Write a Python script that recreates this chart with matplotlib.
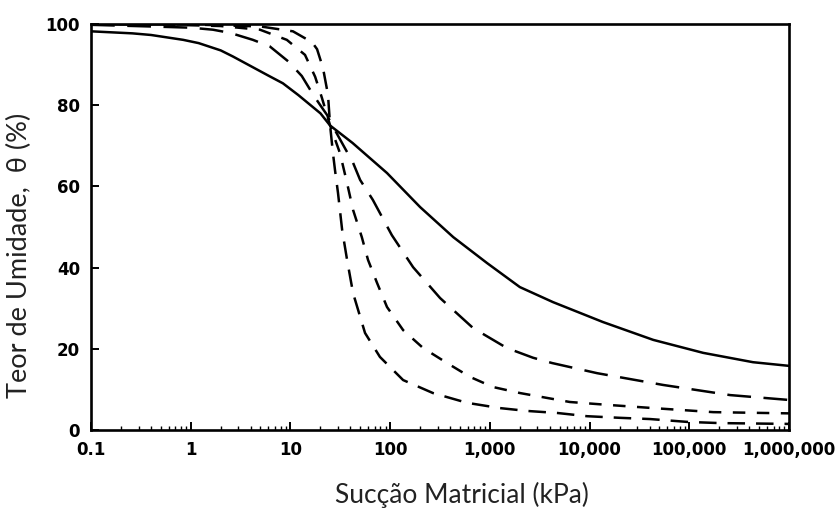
import matplotlib
matplotlib.use("Agg")
import matplotlib.pyplot as plt
from matplotlib.ticker import LogLocator, NullFormatter

# ---- data ----
solid_x = [0.1, 0.26, 0.4, 0.84, 1.2, 2, 2.65, 6, 8.4, 12, 20, 25, 42, 93, 200,
           430, 940, 2000, 4300, 13600, 43500, 138000, 436000, 1e6]
solid_y = [98.2, 97.7, 97.3, 96.1, 95.3, 93.5, 92.0, 87.3, 85.4, 82.5, 78, 75,
           70.7, 63.3, 54.9, 47.5, 41.1, 35.2, 31.5, 26.6, 22.2, 19.0, 16.7, 15.8]

c_x = [0.1, 0.39, 1.0, 1.67, 2.5, 4.2, 6.2, 9.5, 13, 16.9, 19.8, 23.3, 25, 42.5,
       50, 67, 104, 170, 317, 680, 1480, 2710, 4200, 11900, 54600, 257000, 1e6]
c_y = [99.8, 99.4, 99.1, 98.6, 97.8, 96.1, 94.5, 90.8, 87.2, 82.6, 80.1, 77.6,
       76, 65.8, 61.6, 56.7, 48.0, 40.1, 32.5, 25.1, 20.2, 17.8, 16.5, 14.0, 11.1,
       8.6, 7.4]

b_x = [0.1, 0.5, 2, 4.95, 9.2, 14, 17.7, 20.7, 23.8, 25, 31.4, 37, 42.5, 52, 60,
       74, 93, 135, 214, 372, 630, 1070, 2010, 3750, 6340, 15000, 43300, 174000,
       550000, 1e6]
b_y = [100, 99.9, 99.5, 98.6, 96.1, 92.4, 87, 81.8, 76.8, 75, 68.2, 60.8, 54.2,
       47.5, 41.9, 36.2, 30.3, 24.6, 20.2, 16.5, 13.1, 10.6, 9.1, 7.9, 6.9, 6.2,
       5.4, 4.4, 4.2, 4.1]

a_x = [0.1, 1, 5, 10.6, 16.5, 18.5, 21.2, 23.8, 25, 26.7, 28, 30, 33, 37, 42.5,
       56, 79, 135, 269, 590, 1260, 2350, 4720, 9440, 20200, 40400, 95000,
       204000, 1e6]
a_y = [100, 99.9, 99.4, 98.2, 95.5, 93.8, 89.2, 82.6, 75, 68.2, 64, 58.4, 49.3,
       41.9, 33.7, 23.9, 18.0, 12.3, 9.1, 6.7, 5.4, 4.7, 4.2, 3.4, 3.0, 2.7, 2.0,
       1.7, 1.5]

x_ticks = [0.1, 1, 10, 100, 1000, 10000, 100000, 1000000]
x_tick_labels = ["0.1", "1", "10", "100", "1,000", "10,000", "100,000", "1,000,000"]
y_ticks = [0, 20, 40, 60, 80, 100]
x_label = "Sucção Matricial (kPa)"
y_label = "Teor de Umidade,  θ (%)"

# ---- figure ----
fig = plt.figure(figsize=(8.38, 5.11), dpi=100)
ax = fig.add_axes([0.1086, 0.1585, 0.8329, 0.7945])

lw = 1.8
ax.plot(solid_x, solid_y, color="black", lw=lw)
ax.plot(c_x, c_y, color="black", lw=lw, linestyle=(0, (9.5, 5.0)))
ax.plot(b_x, b_y, color="black", lw=lw, linestyle=(0, (5.0, 4.6)))
ax.plot(a_x, a_y, color="black", lw=lw, linestyle=(0, (7.0, 4.4)))

ax.set_xscale("log")
ax.set_xlim(0.1, 1e6)
ax.set_ylim(0, 100)

ax.set_xticks(x_ticks)
ax.set_xticklabels(x_tick_labels)
ax.xaxis.set_minor_locator(LogLocator(base=10, subs=range(2, 10), numticks=20))
ax.xaxis.set_minor_formatter(NullFormatter())
ax.set_yticks(y_ticks)

ax.tick_params(axis="both", which="major", direction="in", length=6, width=1.4,
               labelsize=12, pad=8, colors="black")
ax.tick_params(axis="x", which="minor", direction="in", length=3, width=1.0)
ax.tick_params(top=False, right=False, which="both")
for lab in ax.get_xticklabels() + ax.get_yticklabels():
    lab.set_fontweight("bold")
    lab.set_family("DejaVu Sans")

for s in ax.spines.values():
    s.set_linewidth(1.9)
    s.set_color("black")

ax.set_xlabel(x_label, fontsize=19, family="Lato", color="#222222")
ax.set_ylabel(y_label, fontsize=19.5, family="Lato", color="#222222")
ax.xaxis.label.set_va("center")
ax.yaxis.label.set_va("center")
ax.xaxis.set_label_coords(0.5315, -0.16)
ax.yaxis.set_label_coords(-0.103, 0.431)

fig.savefig("out.png", dpi=100, facecolor="white")
